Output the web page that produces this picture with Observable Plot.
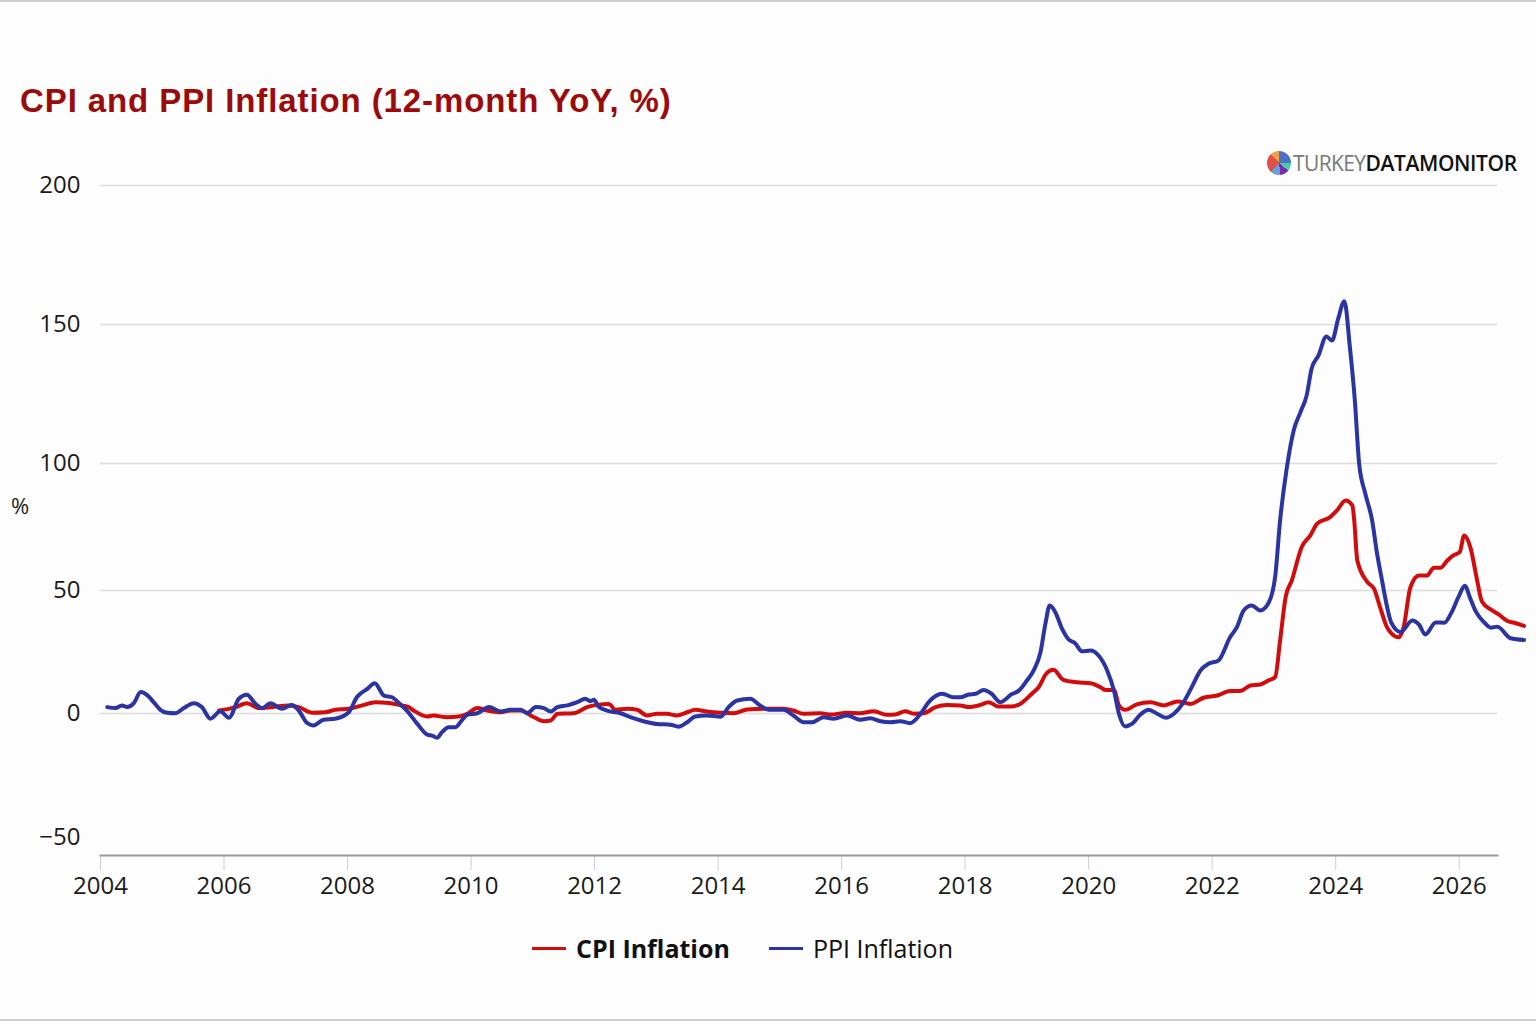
<!DOCTYPE html>
<html><head><meta charset="utf-8">
<script src="https://cdn.jsdelivr.net/npm/d3@7"></script>
<script src="https://cdn.jsdelivr.net/npm/@observablehq/plot@0.6"></script>
<style>
html,body{margin:0;padding:0;background:#fdfdfd;}
#page{position:relative;width:1536px;height:1024px;overflow:hidden;background:#fdfdfd;}
#topline{position:absolute;left:0;top:0;width:1536px;height:2px;background:#cfcfcf}
#botline{position:absolute;left:0;top:1019px;width:1536px;height:2px;background:#cfcfcf}
#title{position:absolute;left:20px;top:84px;font:bold 33px "Liberation Sans",Arial,sans-serif;letter-spacing:0.9px;color:#9c0b0b;line-height:1;white-space:nowrap}
#logo{position:absolute;left:1267px;top:151px;display:flex;align-items:center;font-family:"Open Sans",sans-serif;font-size:21px;line-height:24px;white-space:nowrap}
#pie{width:24px;height:24px;border-radius:50%;background:conic-gradient(#4a6fc8 0 25%,#4cc9a6 25% 36%,#7b2aa8 36% 48%,#5fa3d9 48% 62%,#e0504a 62% 88%,#f0a040 88% 100%);margin-right:2px}
.t1{color:#7a7a7a;font-weight:400;letter-spacing:-0.6px}
.t2{color:#111;font-weight:600;letter-spacing:-0.4px}
#ylab{position:absolute;left:11px;top:490px;font:22px "Open Sans",sans-serif;color:#222}
#chart{position:absolute;left:0;top:140px}
#legend{position:absolute;left:532px;top:931px;display:flex;align-items:center;font-family:"Open Sans",sans-serif;font-size:25px;color:#111;white-space:nowrap}
#legend .sw{display:inline-block;width:34px;height:3px;margin-right:10px}
#legend .lb{margin-right:39px}
</style></head>
<body><div id="page">
<div id="topline"></div><div id="botline"></div>
<div id="title">CPI and PPI Inflation (12-month YoY, %)</div>
<div id="logo"><div id="pie"></div><span class="t1">TURKEY</span><span class="t2">DATAMONITOR</span></div>
<div id="ylab">%</div>
<div id="chart"></div>
<div id="legend"></div>
</div>
<script>
const ppiYears = [2004.11,2004.24,2004.35,2004.43,2004.54,2004.65,2004.78,2004.86,2004.97,2005.08,2005.21,2005.35,2005.51,2005.64,2005.78,2005.94,2006.08,2006.24,2006.37,2006.51,2006.62,2006.75,2006.94,2007.10,2007.21,2007.35,2007.45,2007.61,2007.80,2008.02,2008.15,2008.32,2008.44,2008.59,2008.72,2008.86,2008.96,2009.13,2009.29,2009.37,2009.45,2009.53,2009.64,2009.75,2009.85,2009.94,2010.10,2010.29,2010.48,2010.64,2010.80,2010.91,2011.05,2011.18,2011.29,2011.40,2011.56,2011.72,2011.85,2011.93,2011.99,2012.07,2012.20,2012.42,2012.58,2012.79,2013.01,2013.23,2013.36,2013.50,2013.63,2013.82,2014.04,2014.17,2014.31,2014.52,2014.68,2014.82,2015.06,2015.22,2015.38,2015.52,2015.71,2015.87,2016.09,2016.30,2016.46,2016.63,2016.79,2016.95,2017.11,2017.28,2017.41,2017.63,2017.81,2017.92,2018.06,2018.17,2018.30,2018.43,2018.57,2018.75,2018.87,2019.00,2019.11,2019.22,2019.30,2019.37,2019.46,2019.57,2019.68,2019.78,2019.89,2020.03,2020.16,2020.30,2020.41,2020.49,2020.59,2020.70,2020.84,2020.97,2021.11,2021.25,2021.38,2021.52,2021.67,2021.81,2021.94,2022.10,2022.29,2022.40,2022.51,2022.64,2022.78,2022.91,2023.02,2023.10,2023.21,2023.32,2023.43,2023.53,2023.61,2023.72,2023.85,2023.94,2024.04,2024.14,2024.23,2024.31,2024.38,2024.48,2024.59,2024.67,2024.75,2024.83,2024.90,2025.05,2025.24,2025.35,2025.45,2025.62,2025.76,2025.87,2026.00,2026.09,2026.18,2026.27,2026.41,2026.51,2026.62,2026.83,2027.05];
const ppiValues = [2.6,2.2,3.3,2.6,4.2,8.7,6.9,4.6,1.5,0.3,0.1,2.2,4.2,2.6,-2.1,0.9,-1.7,6.0,7.6,3.9,2.2,4.2,1.9,3.5,1.2,-3.9,-4.8,-2.5,-2.1,0.5,6.6,10.0,12.3,7.3,6.6,3.6,1.2,-4.2,-8.5,-8.9,-9.8,-7.5,-5.5,-5.5,-2.8,-0.5,0.1,2.6,0.8,1.5,1.5,0.1,2.6,2.2,0.8,2.6,3.3,4.6,6.0,5.0,5.6,2.6,1.2,0.1,-1.5,-3.1,-4.2,-4.5,-5.3,-3.5,-1.2,-0.8,-1.3,2.6,5.3,6.0,3.3,1.5,1.5,-0.8,-3.5,-3.5,-1.5,-2.1,-0.8,-2.5,-1.9,-3.1,-3.5,-3.1,-3.9,-0.1,4.6,8.0,6.6,6.6,7.7,8.0,9.6,8.0,4.6,7.8,9.3,13.4,17.5,24.9,36.5,43.9,41.2,34.4,30.0,28.6,25.3,25.6,23.6,17.5,9.3,-0.1,-5.2,-4.2,-0.4,1.5,-0.1,-1.7,-0.1,3.9,10.7,17.5,20.2,21.5,31.0,35.1,41.9,43.9,41.9,44.8,55.4,77.6,98.5,111.9,118.5,124.5,134.1,138.8,145.7,144.2,152.0,158.4,141.8,122.7,99.9,88.1,77.6,64.5,54.0,43.6,36.9,33.1,37.8,36.1,32.1,37.0,36.9,40.8,48.0,51.9,46.7,41.4,36.9,34.9,35.3,30.6,29.9];
const cpiYears = [2005.92,2006.19,2006.37,2006.56,2006.78,2007.05,2007.21,2007.43,2007.64,2007.80,2008.02,2008.24,2008.45,2008.67,2008.83,2008.99,2009.07,2009.29,2009.39,2009.61,2009.80,2009.94,2010.10,2010.26,2010.48,2010.64,2010.80,2011.02,2011.18,2011.29,2011.40,2011.66,2011.88,2012.04,2012.23,2012.34,2012.53,2012.69,2012.85,2013.01,2013.17,2013.33,2013.50,2013.63,2013.82,2014.04,2014.25,2014.47,2014.74,2015.06,2015.22,2015.38,2015.66,2015.82,2016.09,2016.30,2016.52,2016.73,2016.87,2017.03,2017.17,2017.33,2017.52,2017.71,2017.92,2018.06,2018.25,2018.38,2018.54,2018.73,2018.89,2019.08,2019.19,2019.32,2019.43,2019.59,2019.81,2020.03,2020.19,2020.27,2020.41,2020.49,2020.59,2020.78,2021.00,2021.22,2021.44,2021.65,2021.86,2022.08,2022.29,2022.45,2022.62,2022.78,2022.91,2023.02,2023.10,2023.19,2023.29,2023.45,2023.59,2023.70,2023.91,2024.02,2024.16,2024.27,2024.30,2024.35,2024.51,2024.62,2024.73,2024.83,2024.91,2025.02,2025.10,2025.21,2025.35,2025.48,2025.59,2025.70,2025.80,2025.91,2026.01,2026.08,2026.18,2026.29,2026.37,2026.51,2026.64,2026.78,2026.89,2027.05];
const cpiValues = [1.2,2.6,4.2,2.2,2.6,3.3,2.6,0.3,0.5,1.5,1.9,3.3,4.6,4.3,3.5,2.6,1.2,-1.2,-0.8,-1.5,-1.2,-0.1,2.2,1.2,0.5,1.2,1.2,-1.5,-3.1,-2.8,-0.1,0.1,2.6,3.5,3.9,1.5,1.9,1.5,-0.8,-0.1,-0.1,-0.8,0.5,1.5,0.8,0.3,0.1,1.6,1.9,1.9,1.2,-0.1,0.1,-0.4,0.3,0.1,0.9,-0.5,-0.4,0.9,-0.1,0.1,2.6,3.5,3.3,2.6,3.5,4.6,2.8,2.8,3.9,8.0,10.7,16.4,17.8,13.7,12.7,12.3,10.7,9.6,9.6,3.3,1.5,3.7,4.6,3.3,4.9,3.9,6.4,7.3,9.1,9.1,11.4,11.8,13.4,14.8,29.7,47.4,54.0,67.1,71.7,76.3,78.9,81.5,85.4,83.5,77.6,61.8,53.4,50.7,42.3,35.1,32.4,31.0,35.1,51.3,55.9,55.9,59.0,59.0,61.6,63.9,65.2,71.7,67.1,54.0,45.4,42.3,40.3,37.6,36.9,35.6];
const seriesNames = ["CPI Inflation", "PPI Inflation"];
const yTicks = [-50, 0, 50, 100, 150, 200];
const gridValues = [0, 50, 100, 150, 200];
const xTicks = [2004, 2006, 2008, 2010, 2012, 2014, 2016, 2018, 2020, 2022, 2024, 2026];

const colors = {"CPI Inflation": "#d20c0c", "PPI Inflation": "#2b34a3"};
const cpi = cpiYears.map((x, i) => ({x, y: cpiValues[i]}));
const ppi = ppiYears.map((x, i) => ({x, y: ppiValues[i]}));

const chart = Plot.plot({
  width: 1536, height: 780,
  marginLeft: 100, marginRight: 39, marginTop: 40, marginBottom: 65,
  style: {background: "transparent", fontFamily: "'Open Sans', sans-serif", color: "#1a1a1a"},
  x: {type: "linear", domain: [2004, 2026.62]},
  y: {type: "linear", domain: yTicks, range: [697, 573, 450, 323, 184, 45]},
  marks: [
    Plot.ruleY(gridValues, {stroke: "#dcdcdc", strokeWidth: 1.5}),
    Plot.axisY({ticks: yTicks, tickSize: 0, tickPadding: 20, label: null, fontSize: 24,
      tickFormat: d => d < 0 ? "\u2212" + Math.abs(d) : String(d)}),
    Plot.axisX({ticks: xTicks, tickFormat: d => String(d), tickSize: 15, tickPadding: 6, label: null, fontSize: 24, stroke: "#c9cfdb"}),
    Plot.frame({anchor: "bottom", stroke: "#9a9a9a", strokeWidth: 2}),
    Plot.line(cpi, {x: "x", y: "y", stroke: colors["CPI Inflation"], strokeWidth: 4, curve: "monotone-x"}),
    Plot.line(ppi, {x: "x", y: "y", stroke: colors["PPI Inflation"], strokeWidth: 4, curve: "monotone-x"})
  ]
});
document.getElementById("chart").appendChild(chart);

const legend = document.getElementById("legend");
seriesNames.forEach((name, i) => {
  const sw = document.createElement("span");
  sw.className = "sw"; sw.style.background = colors[name];
  const lb = document.createElement("span");
  lb.className = "lb"; lb.textContent = name;
  if (i === 0) lb.style.fontWeight = "700";
  legend.appendChild(sw); legend.appendChild(lb);
});
</script>
</body></html>
